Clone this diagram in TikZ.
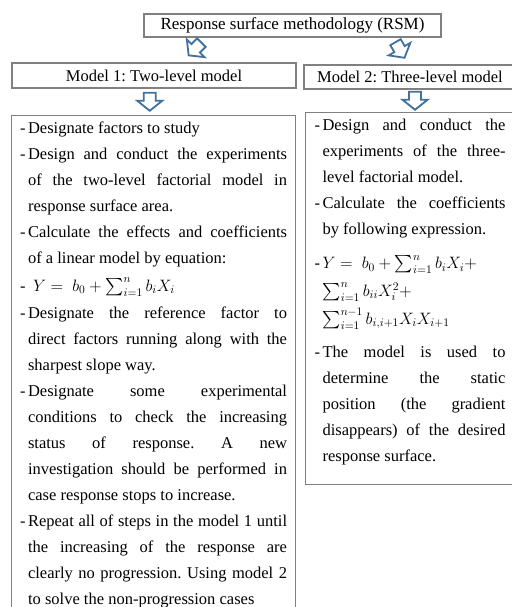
\documentclass[tikz,border=0pt]{standalone}
\usepackage{fix-cm}
\usepackage{amsmath}
\usepackage{fontspec}
\setmainfont{Liberation Serif}
\usetikzlibrary{calc}
\definecolor{boxline}{HTML}{808080}
\definecolor{arrowblue}{HTML}{41719C}
\newcommand\ItmJ[1]{\hbox to\linewidth{\vrule height13pt depth0pt width0pt\hbox to8pt{-\hss}#1}}
\newcommand\ItmR[1]{\hbox to\linewidth{\vrule height13pt depth0pt width0pt\hbox to8pt{-\hss}#1\hfil}}
\newcommand\ConJ[1]{\hbox to\linewidth{\vrule height13pt depth0pt width0pt\hskip8pt #1}}
\newcommand\ConR[1]{\hbox to\linewidth{\vrule height13pt depth0pt width0pt\hskip8pt #1\hfil}}
\tikzset{
  box/.style={draw=boxline, line width=1.1pt, inner sep=0pt},
  blockarrow/.pic={\draw[arrowblue, line width=1.8pt, line join=miter, fill=white]
     (-6,-9)--(6,-9)--(6,-1)--(12.5,-1)--(0,9)--(-12.5,-1)--(-6,-1)--cycle;}
}
\frenchspacing
\begin{document}
\begin{tikzpicture}[x=1pt,y=-1pt,font=\fontsize{16.5pt}{26pt}\selectfont]
\useasboundingbox (0,0) rectangle (511,607);
\node[box, minimum width=297pt, minimum height=23pt, font=\fontsize{17pt}{20pt}\selectfont] (T) at (292.5,25.5) {Response surface methodology (RSM)};
\node[box, minimum width=284pt, minimum height=25pt] (M1) at (154,75.5) {Model 1: Two-level model};
\node[box, minimum width=212pt, minimum height=24pt] (M2) at (410,77) {Model 2: Three-level model};
\node[box, anchor=north west, inner xsep=8.5pt, inner ysep=5pt] (L) at (11,115) {%
\begin{minipage}[t][600pt][t]{267pt}
\ItmR{Designate factors to study}
\ItmJ{Design and conduct the experiments}
\ConJ{of the two-level factorial model in}
\ConR{response surface area.}
\ItmJ{Calculate the effects and coefficients}
\ConR{of a linear model by equation:}
\vspace{1.5pt}
\ItmR{\hskip5pt$Y=\;b_0+\sum_{i=1}^{n}b_iX_i$}
\vspace{1.5pt}
\ItmJ{Designate the reference factor to}
\ConJ{direct factors running along with the}
\ConR{sharpest slope way.}
\ItmJ{Designate some experimental}
\ConJ{conditions to check the increasing}
\ConJ{status of response. A new}
\ConJ{investigation should be performed in}
\ConR{case response stops to increase.}
\ItmJ{Repeat all of steps in the model 1 until}
\ConJ{the increasing of the response are}
\ConJ{clearly no progression. Using model 2}
\ConR{to solve the non-progression cases}
\end{minipage}};
\node[box, anchor=north west, inner xsep=9pt, inner ysep=5pt] (R) at (305,112) {%
\begin{minipage}[t][362pt][t]{191pt}
\ItmJ{Design and conduct the}
\ConJ{experiments of the three-}
\ConR{level factorial model.}
\ItmJ{Calculate the coefficients}
\ConR{by following expression.}
\vspace{8pt}
\ItmR{$Y=\;b_0+\sum_{i=1}^{n}b_iX_i+$}
\vspace{1.5pt}
\ConR{$\sum_{i=1}^{n}b_{ii}X_i^2+$}
\vspace{2pt}
\ConR{$\sum_{i=1}^{n-1}b_{i,i+1}X_iX_{i+1}$}
\vspace{7.5pt}
\ItmJ{The model is used to}
\ConJ{determine the static}
\ConJ{position (the gradient}
\ConJ{disappears) of the desired}
\ConR{response surface.}
\end{minipage}};
\pic[rotate=-45] at (195,49) {blockarrow};
\pic[rotate=30] at (400,50) {blockarrow};
\pic at ($(M1.south)!0.5!(L.north)+(-4,0)$) {blockarrow};
\pic at ($(M2.south)!0.5!(R.north)+(5,0)$) {blockarrow};
\end{tikzpicture}
\end{document}
